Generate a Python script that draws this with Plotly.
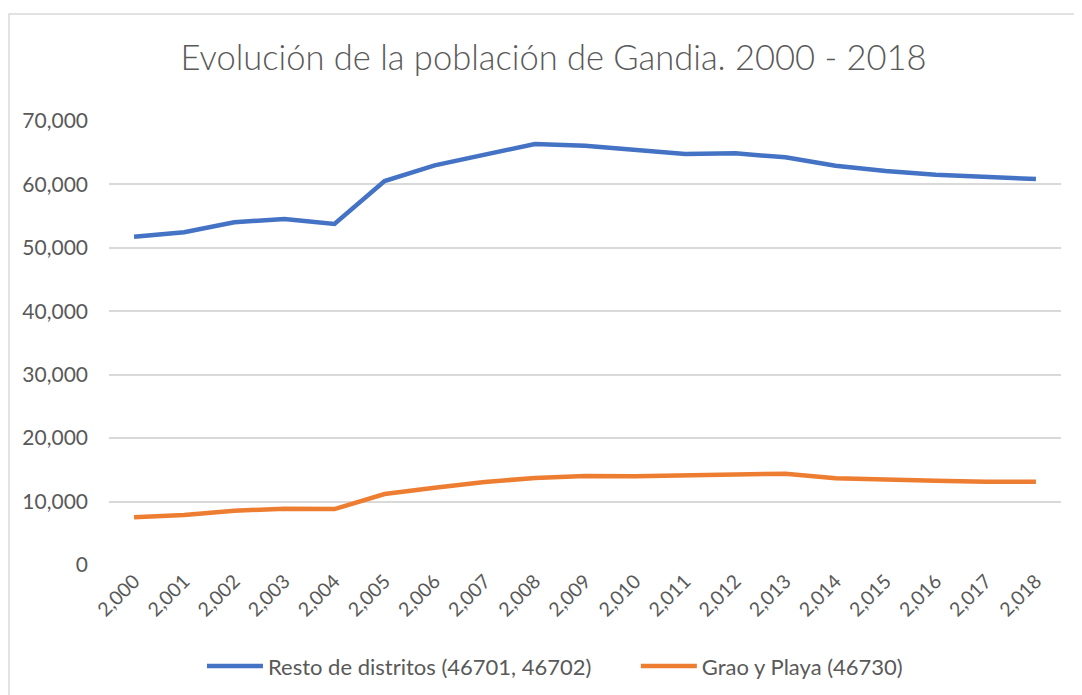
import plotly.graph_objects as go

years = ["2,000", "2,001", "2,002", "2,003", "2,004", "2,005", "2,006", "2,007", "2,008", "2,009",
         "2,010", "2,011", "2,012", "2,013", "2,014", "2,015", "2,016", "2,017", "2,018"]
resto = [51760, 52450, 54030, 54550, 53760, 60540, 63010, 64750, 66370, 66100,
         65530, 64790, 64900, 64270, 62950, 62110, 61540, 61120, 60850]
grao = [7520, 7880, 8560, 8880, 8820, 11190, 12190, 13090, 13720, 14030,
        13980, 14080, 14240, 14400, 13670, 13560, 13300, 13140, 13140]
y_ticks = [0, 10000, 20000, 30000, 40000, 50000, 60000, 70000]
y_labels = ["0", "10,000", "20,000", "30,000", "40,000", "50,000", "60,000", "70,000"]
series_names = ["Resto de distritos (46701, 46702)", "Grao y Playa (46730)"]

FONT = "Lato"
GRAY = "#595959"
PAD = "\u00a0" * 7

fig = go.Figure()
fig.add_trace(go.Scatter(x=years, y=resto, mode="lines", name=series_names[0] + PAD,
                         line=dict(color="#4472C4", width=4.5)))
fig.add_trace(go.Scatter(x=years, y=grao, mode="lines", name=series_names[1],
                         line=dict(color="#ED7D31", width=4.5)))

# page body has an 8px margin; figure is sized/offset so the plot lands where the reference has it
fig.update_layout(
    width=1074, height=687,
    margin=dict(l=101, r=21, t=113, b=130),
    paper_bgcolor="white", plot_bgcolor="white",
    font=dict(family=FONT, color=GRAY, size=21),
    title=dict(text="Evolución de la población de Gandia. 2000 - 2018",
               x=0.508, xanchor="center", y=0.927, yanchor="middle",
               font=dict(family=FONT, size=34.5, color=GRAY, weight=300)),
    showlegend=True,
    legend=dict(orientation="h", xref="container", yref="container",
                x=0.1806, xanchor="left", y=0.042, yanchor="middle",
                font=dict(size=22, color=GRAY), itemwidth=56,
                traceorder="normal"),
    xaxis=dict(type="category", tickangle=-45, showgrid=False, showline=False, ticks="",
               tickfont=dict(size=19.5, color=GRAY), range=[-0.5, 18.5], automargin=False),
    yaxis=dict(range=[0, 70000], tickvals=y_ticks, ticktext=y_labels, showgrid=True,
               gridcolor="#D9D9D9", gridwidth=1.5, zeroline=False, showline=False,
               ticks="", ticklabelstandoff=20, tickfont=dict(size=21, color=GRAY),
               automargin=False),
    shapes=[dict(type="rect", xref="paper", yref="paper", x0=-0.105, x1=1.03, y0=-0.31, y1=1.241,
                 line=dict(color="#D9D9D9", width=1.5), fillcolor="rgba(0,0,0,0)", layer="below")],
)
fig.write_html("out.html")
